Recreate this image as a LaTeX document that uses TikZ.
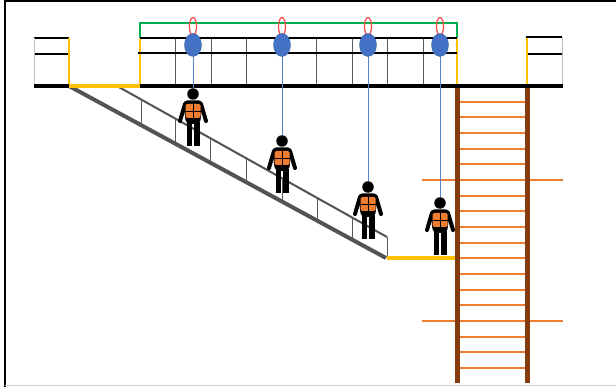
\documentclass[tikz,border=0pt]{standalone}
\usepackage{tikz}
\usetikzlibrary{shapes.geometric}
\definecolor{railgreen}{RGB}{0,176,80}
\definecolor{edgeyellow}{RGB}{255,192,0}
\definecolor{anchorblue}{RGB}{68,114,196}
\definecolor{ladderbrown}{RGB}{132,60,12}
\definecolor{rungorange}{RGB}{237,125,49}
\definecolor{loopred}{RGB}{255,70,70}
\tikzstyle{trolley}=[ellipse, fill=anchorblue, draw=anchorblue!85!black, line width=0.4, minimum width=17, minimum height=23, inner sep=0]
\tikzstyle{shackle}=[ellipse, draw=loopred, line width=1.2, minimum width=7, minimum height=18, inner sep=0]
\tikzstyle{head}=[circle, fill=black, minimum size=11.5, inner sep=0]
\tikzstyle{lifeline}=[anchorblue!90, line width=1]
\tikzstyle{rail}=[black, line width=2]
\tikzstyle{floorline}=[black, line width=4]
\tikzstyle{post}=[gray!70!black, line width=1]
\tikzstyle{yellowpost}=[edgeyellow, line width=1.3]
\tikzstyle{yellowfloor}=[edgeyellow, line width=4]
\tikzstyle{stringer}=[gray!65!black, line width=4]
\tikzstyle{handrail}=[gray!65!black, line width=2]
\tikzstyle{ladderrail}=[ladderbrown, line width=5]
\tikzstyle{rung}=[rungorange, line width=2]
\tikzset{worker/.pic={
    \draw[black, line width=4, line cap=round] (-8,10) -- (-13,27);
    \draw[black, line width=4, line cap=round] (8,10) -- (13,27);
    \fill[black, rounded corners=4] (-10,6.5) -- (10,6.5) -- (7,30) -- (-7,30) -- cycle;
    \fill[black] (-6.5,28) rectangle (-1,52);
    \fill[black] (1,28) rectangle (6.5,52);
    \fill[rungorange, rounded corners=1.5] (-7.5,10) rectangle (7.5,24);
    \draw[black, line width=1] (0,10) -- (0,24) (-7.5,17.5) -- (7.5,17.5);
    \node[head] (-head) at (0,0) {};
}}

\begin{document}
\begin{tikzpicture}[x=1pt, y=-1pt]
                \useasboundingbox (0,0) rectangle (616,387);
                \draw[black, line width=2] (5,387) -- (5,1) -- (616,1);
                \draw[gray!40, line width=1] (5,385) -- (616,385);
                % stairs
                \draw[stringer] (69,86) -- (386,258);
                \draw[handrail] (117,86) -- (387,237);
                \draw[post] (387,237) -- (387,258);
                \foreach \x in {141,175,210,246,282,317,352}
                    \draw[post] (\x,{86+(\x-117)*0.559}) -- (\x,{86+(\x-69)*0.5426});
                \draw[yellowfloor] (387,258) -- (457,258);
                % ladder
                \foreach \i in {0,...,17}
                    \draw[rung] (459,{101.7+15.67*\i}) -- (525,{101.7+15.67*\i});
                \draw[rung] (422,180) -- (563,180);
                \draw[rung] (422,321) -- (563,321);
                \draw[ladderrail] (457,86) -- (457,383);
                \draw[ladderrail] (527,86) -- (527,383);
                % left landing
                \draw[rail] (34,38) -- (69,38);
                \draw[rail] (34,54) -- (69,54);
                \draw[post, gray!50] (34,38) -- (34,86);
                \draw[yellowpost] (69,38) -- (69,86);
                % main platform
                \draw[railgreen, line width=2] (140,38) -- (140,23) -- (457,23) -- (457,38);
                \foreach \x in {175,211,246,282,316,352,387,423}
                    \draw[post] (\x,38) -- (\x,86);
                \draw[yellowpost] (140,39) -- (140,86);
                \draw[yellowpost] (457,39) -- (457,86);
                \draw[rail] (140,38) -- (457,38);
                \draw[rail] (138,53) -- (457,53);
                % right landing
                \draw[rail] (526,37) -- (562,37);
                \draw[rail] (527,54) -- (562,54);
                \draw[post, gray!50] (562,37) -- (562,86);
                \draw[yellowpost] (527,38) -- (527,86);
                % floor
                \draw[floorline] (34,86) -- (69,86);
                \draw[yellowfloor] (69,86) -- (140,86);
                \draw[floorline] (140,86) -- (563,86);
                % trolleys on the anchor line
                \node[shackle] (s1) at (193,26.5) {};
                \node[shackle] (s2) at (282,26.5) {};
                \node[shackle] (s3) at (368,26.5) {};
                \node[shackle] (s4) at (440,26.5) {};
                \node[trolley] (b1) at (193,45) {};
                \node[trolley] (b2) at (282,45) {};
                \node[trolley] (b3) at (368,45) {};
                \node[trolley] (b4) at (440,45) {};
                % workers
                \pic (w1) at (193,94) {worker};
                \pic (w2) at (282,141) {worker};
                \pic (w3) at (368,187) {worker};
                \pic (w4) at (440,203) {worker};
                \draw[lifeline] (b1) -- (w1-head);
                \draw[lifeline] (b2) -- (w2-head);
                \draw[lifeline] (b3) -- (w3-head);
                \draw[lifeline] (b4) -- (w4-head);
            \end{tikzpicture}
\end{document}
